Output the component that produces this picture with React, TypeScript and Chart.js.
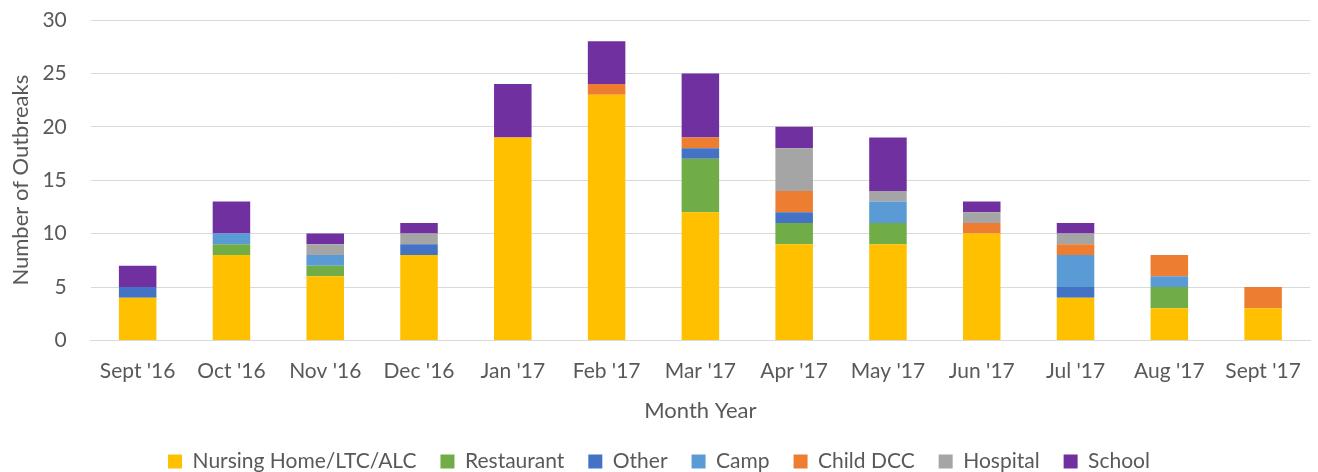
import React, { useEffect, useRef } from "react";
import { Chart, registerables } from "chart.js";

Chart.register(...registerables);

const categories = ["Sept '16", "Oct '16", "Nov '16", "Dec '16", "Jan '17", "Feb '17", "Mar '17", "Apr '17", "May '17", "Jun '17", "Jul '17", "Aug '17", "Sept '17"];
const nursingHome = [4, 8, 6, 8, 19, 23, 12, 9, 9, 10, 4, 3, 3];
const restaurant = [0, 1, 1, 0, 0, 0, 5, 2, 2, 0, 0, 2, 0];
const other = [1, 0, 0, 1, 0, 0, 1, 1, 0, 0, 1, 0, 0];
const camp = [0, 1, 1, 0, 0, 0, 0, 0, 2, 0, 3, 1, 0];
const childDCC = [0, 0, 0, 0, 0, 1, 1, 2, 0, 1, 1, 2, 2];
const hospital = [0, 0, 1, 1, 0, 0, 0, 4, 1, 1, 1, 0, 0];
const school = [2, 3, 1, 1, 5, 4, 6, 2, 5, 1, 1, 0, 0];

const seriesNames = ["Nursing Home/LTC/ALC", "Restaurant", "Other", "Camp", "Child DCC", "Hospital", "School"];
const seriesColors = ["#FFC000", "#70AD47", "#4472C4", "#5B9BD5", "#ED7D31", "#A5A5A5", "#7030A0"];
const seriesValues = [nursingHome, restaurant, other, camp, childDCC, hospital, school];

const FONT = "Lato, 'Open Sans', sans-serif";
const TEXT = "#595959";

export default function App() {
  const ref = useRef<HTMLCanvasElement>(null);
  useEffect(() => {
    if (!ref.current) return;
    const chart = new Chart(ref.current, {
      type: "bar",
      data: {
        labels: categories,
        datasets: seriesNames.map((name, i) => ({
          label: name,
          data: seriesValues[i],
          backgroundColor: seriesColors[i],
          borderWidth: 0,
          barPercentage: 0.8,
          categoryPercentage: 0.5,
        })),
      },
      options: {
        animation: false,
        responsive: true,
        maintainAspectRatio: false,
        layout: { padding: { left: 8, right: 8, top: 20, bottom: -10 } },
        plugins: {
          tooltip: { enabled: false },
          legend: {
            position: "bottom",
            labels: {
              color: TEXT,
              font: { family: FONT, size: 21 },
              boxWidth: 14,
              boxHeight: 14,
              padding: 24,
            },
          },
        },
        scales: {
          x: {
            stacked: true,
            grid: { display: false },
            border: { color: "#D9D9D9", width: 1 },
            ticks: { color: TEXT, font: { family: FONT, size: 21 }, padding: 10, maxRotation: 0 },
            title: { display: true, text: "Month Year", color: TEXT, font: { family: FONT, size: 22 }, padding: { top: 4, bottom: 3 } },
          },
          y: {
            stacked: true,
            min: 0,
            max: 30,
            ticks: { stepSize: 5, color: TEXT, font: { family: FONT, size: 21 }, padding: 2 },
            grid: { color: "#D9D9D9", lineWidth: 1, drawTicks: true, tickLength: 22, tickColor: "rgba(0,0,0,0)" },
            border: { display: false },
            title: { display: true, text: "Number of Outbreaks", color: TEXT, font: { family: FONT, size: 22 }, padding: { top: 0, bottom: 6 } },
          },
        },
      },
    });
    return () => chart.destroy();
  }, []);
  return (
    <div style={{ position: "absolute", left: 0, top: 0, width: 1318, height: 472 }}>
      <canvas ref={ref} />
    </div>
  );
}
